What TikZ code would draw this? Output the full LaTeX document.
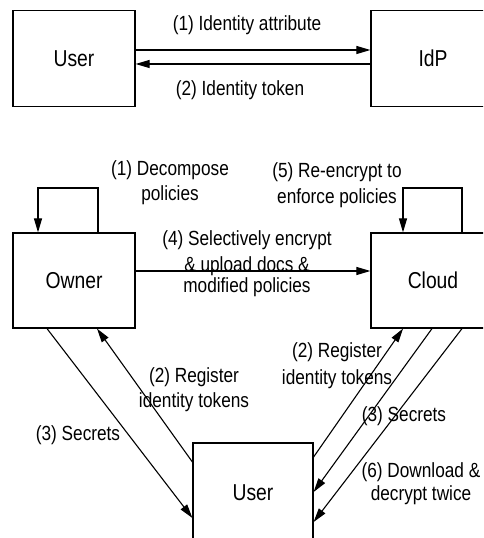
\documentclass[tikz,border=0pt]{standalone}
\usepackage{fontspec}
\setmainfont{Liberation Sans}[FakeStretch=0.84]
\usetikzlibrary{arrows.meta}
\begin{document}
\begin{tikzpicture}[x=1pt,y=1pt,
  box/.style={draw, line width=1.2pt, minimum width=122pt, minimum height=96pt,
    inner sep=0pt, font=\fontsize{23}{27}\selectfont},
  lbl/.style={font=\fontsize{20.5}{25}\selectfont, align=center, inner sep=0pt},
  flow/.style={line width=1.1pt, -{Triangle[length=14pt,width=8pt]}}]
\path[use as bounding box] (0,0) rectangle (483,538);
\clip (0,0) rectangle (483,538);

% identity provisioning
\node[box] (user1) at (74,479.5) {User};
\node[box, minimum width=124pt] (idp) at (433,479.5) {IdP};
\draw[flow] ([yshift=8.5pt]user1.east) -- ([yshift=8.5pt]idp.west);
\draw[flow] ([yshift=-5.5pt]idp.west) -- ([yshift=-5.5pt]user1.east);
\node[lbl] (l1) at (247,513) {(1) Identity attribute};
\node[lbl] (l2) at (240,448) {(2) Identity token};

% owner, cloud and user
\node[box, minimum height=95pt] (owner) at (74,257.5) {Owner};
\node[box, minimum width=124pt, minimum height=95pt] (cloud) at (433,257.5) {Cloud};
\node[box, minimum width=120pt, minimum height=100pt] (user2) at (253,45) {User};

% self loops
\coordinate (ownloop) at (38,350);
\coordinate (cldloop) at (403,350);
\draw[flow] ([xshift=24pt]owner.north) |- (ownloop) -- ([xshift=-36pt]owner.north);
\draw[flow] ([xshift=29pt]cloud.north) |- (cldloop) -- ([xshift=-30pt]cloud.north);
\node[lbl] (l3) at (170,355) {(1) Decompose\\policies};
\node[lbl] (l4) at (337,353) {(5) Re-encrypt to\\[1pt]enforce policies};

% upload
\draw[flow] ([yshift=9.5pt]owner.east) -- ([yshift=9.5pt]cloud.west);
\node[lbl] (l5) at (247,274.5) {(4) Selectively encrypt\\[1pt]\& upload docs \&\\[-4pt]modified policies};

% owner <-> user
\draw[flow] ([xshift=-27pt]owner.south) -- ([yshift=-25pt]user2.west);
\draw[flow] ([yshift=31pt]user2.west) -- ([xshift=23pt]owner.south);
\node[lbl] (l6) at (78,103) {(3) Secrets};
\node[lbl] (l7) at (194,148) {(2) Register\\identity tokens};

% cloud <-> user
\draw[flow] ([yshift=36pt]user2.east) -- ([xshift=-30pt]cloud.south);
\draw[flow] ([xshift=-1pt]cloud.south) -- ([yshift=1pt]user2.east);
\draw[flow] ([xshift=29pt]cloud.south) -- ([yshift=-29pt]user2.east);
\node[lbl] (l8) at (337,172) {(2) Register\\[2pt]identity tokens};
\node[lbl] (l9) at (404,122) {(3) Secrets};
\node[lbl] (l10) at (421,54.5) {(6) Download \&\\[-2pt]decrypt twice};
\end{tikzpicture}
\end{document}
